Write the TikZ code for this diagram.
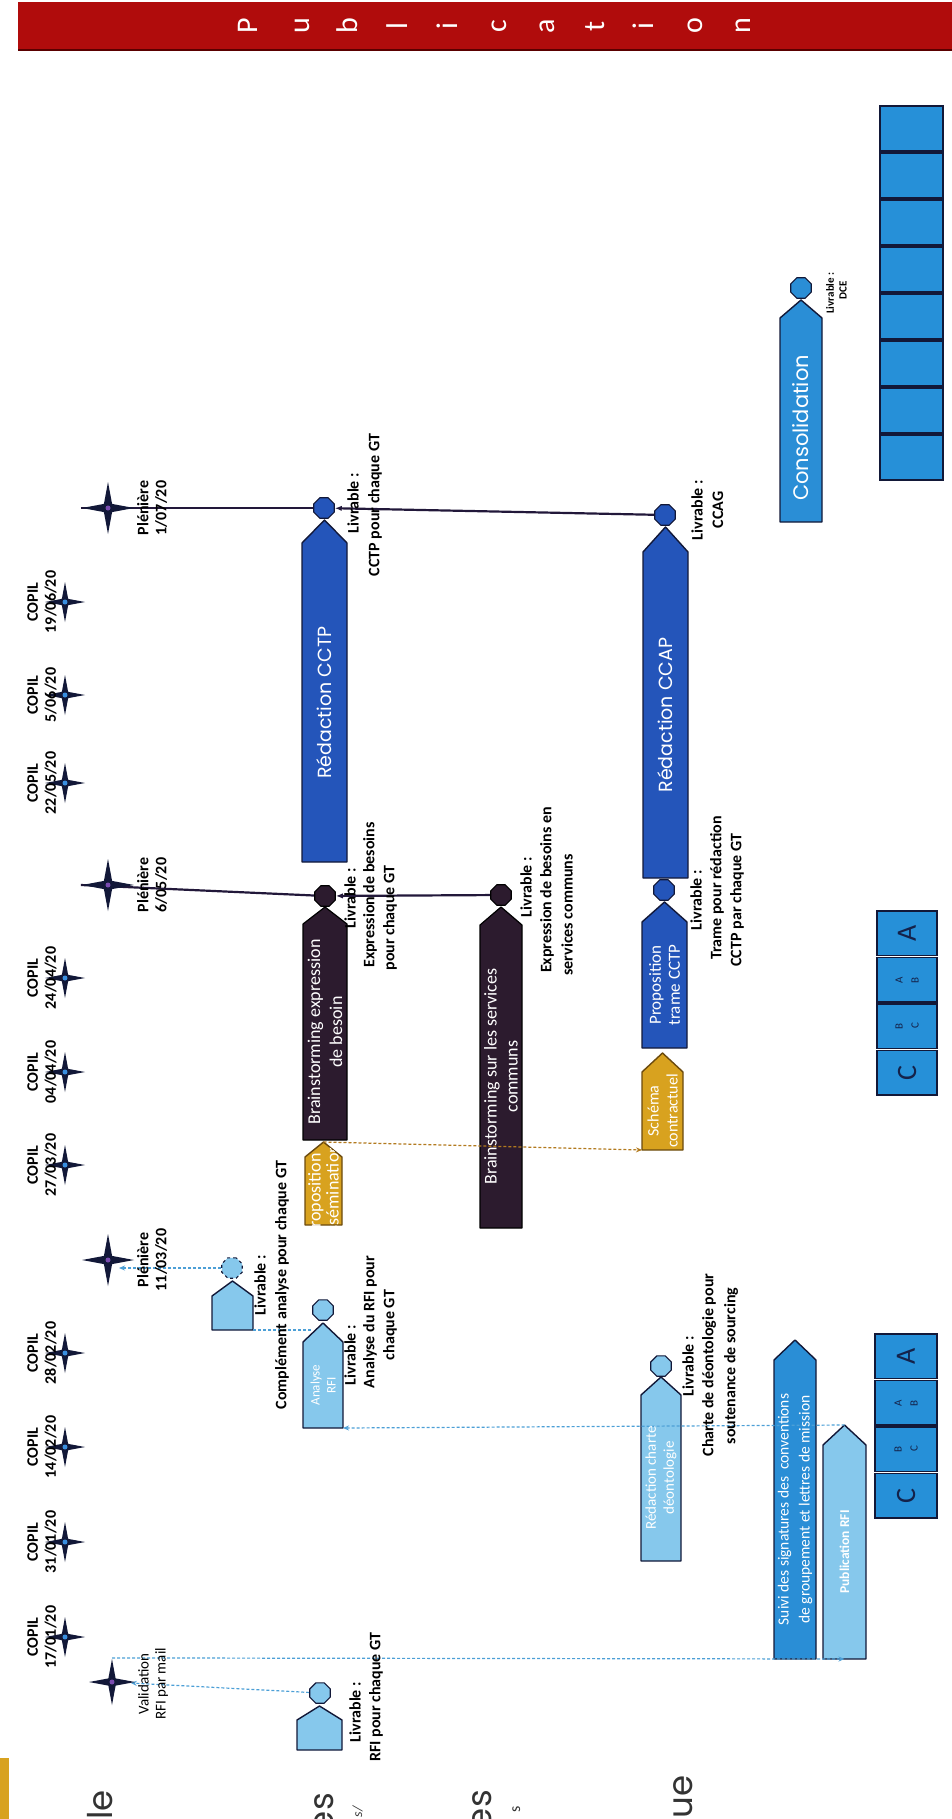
\documentclass[tikz,border=0pt]{standalone}
\usepackage{fontspec}
\setmainfont{Carlito}
\newfontfamily\geofont{Poppins}
\usetikzlibrary{shapes.geometric,arrows.meta}
\definecolor{navy}{HTML}{121838}
\definecolor{lightb}{HTML}{86C8EC}
\definecolor{medb}{HTML}{2A8ED6}
\definecolor{royal}{HTML}{2455BA}
\definecolor{darkp}{HTML}{2C1B2E}
\definecolor{goldc}{HTML}{D8A21F}
\definecolor{goldd}{HTML}{6B4A0E}
\definecolor{bannerred}{HTML}{B00C0C}
\definecolor{bannerdark}{HTML}{5A0000}
\definecolor{dashblue}{HTML}{4C9FD6}
\definecolor{dashgold}{HTML}{B27A1E}
\definecolor{linedark}{HTML}{22183A}
\definecolor{greytxt}{HTML}{333333}
\definecolor{starblue}{HTML}{3A8FE0}
\definecolor{starpurple}{HTML}{7A4CB0}
\definecolor{cellb}{HTML}{2690D8}
\definecolor{letterc}{HTML}{14224A}
\pgfdeclarelayer{boxes}
\pgfdeclarelayer{lines}
\pgfsetlayers{boxes,lines,main}
\newcommand{\gtask}[7]{%
  \draw[#2] (#3,#7) -- (#3,#6) -- ({(#3+#4)/2},#5) -- (#4,#6) -- (#4,#7) -- cycle;
  \coordinate (#1-tip) at ({(#3+#4)/2},#5);
  \coordinate (#1-bot) at ({(#3+#4)/2},#7);
  \coordinate (#1-bl) at (#3,#7);
  \coordinate (#1-br) at (#4,#7);
  \coordinate (#1-mid) at ({(#3+#4)/2},{(#6+#7)/2});
}
\newcommand{\cbastack}[4]{%
  \foreach \i in {0,1,2,3} {\draw[cellbox] (#2,{#4+46.5*\i+1}) rectangle (#3,{#4+46.5*\i+45.5});}
  \node[bigletter] (#1-a) at ({(#2+#3)/2},{#4+23}) {A};
  \node[smallletter] (#1-ab) at ({(#2+#3)/2},{#4+70}) {A\\B};
  \node[smallletter] (#1-bc) at ({(#2+#3)/2},{#4+116}) {B\\C};
  \node[bigletter] (#1-c) at ({(#2+#3)/2},{#4+163}) {C};
}
\begin{document}
\begin{tikzpicture}[x=1pt,y=-1pt,
 lightbox/.style={fill=lightb, draw=navy, line width=1.4pt, line join=round},
 medbox/.style={fill=medb, draw=navy, line width=1.4pt, line join=round},
 royalbox/.style={fill=royal, draw=navy, line width=1.4pt, line join=round},
 darkbox/.style={fill=darkp, draw=black, line width=1.2pt, line join=round},
 goldbox/.style={fill=goldc, draw=goldd, line width=1.4pt, line join=round},
 cellbox/.style={fill=cellb, draw=navy, line width=1.3pt},
 oct/.style={regular polygon, regular polygon sides=8, minimum size=22pt, inner sep=0pt, draw=navy, line width=1.2pt},
 copilstar/.style={star, star points=4, star point ratio=4.5, minimum size=40pt, inner sep=0pt, fill=navy},
 plestar/.style={copilstar, minimum size=52pt},
 stardot/.style={circle, inner sep=0pt, minimum size=5pt, fill=starblue},
 rot/.style={rotate=90, inner sep=0pt},
 lbl/.style={rot, align=center, font=\fontsize{16}{21}\selectfont\bfseries},
 mslbl/.style={rot, align=center, font=\fontsize{16}{18}\selectfont\bfseries},
 btxt/.style={rot, align=center, text=white},
 dashl/.style={draw=dashblue, line width=1.2pt, dash pattern=on 3pt off 2pt},
 dashg/.style={draw=dashgold, line width=1.2pt, dash pattern=on 3pt off 2pt},
 blk/.style={draw=linedark, line width=2.2pt},
 bigletter/.style={rot, text=letterc, font=\fontsize{28}{30}\selectfont},
 smallletter/.style={rot, text=letterc, align=center, font=\fontsize{11}{16}\selectfont},
 frag/.style={rot, text=greytxt, font=\geofont\fontsize{34}{40}\selectfont},
 tip/.style={-{Stealth[length=6pt,width=5pt]}}
]
\useasboundingbox (0,0) rectangle (952,1819);

% banner
\fill[bannerred] (18,2) rectangle (952,50);
\draw[bannerdark, line width=1.5pt] (18,50) -- (952,50);
\foreach \ch/\xx in {P/248,u/302,b/347,l/397,i/447,c/499,a/547,t/595,i/643,o/695,n/743}
  {\node[rot, text=white, font=\fontsize{30}{30}\selectfont] (ban\xx) at (\xx,26) {\ch};}

\begin{pgfonlayer}{boxes}
\foreach \i in {0,...,7} {\draw[cellbox] (880,{105+47*\i+1}) rectangle (943,{105+47*\i+46});}
\gtask{rfi}{lightbox}{297}{342}{1706}{1720}{1750}
\gtask{comp}{lightbox}{212}{253}{1281}{1296}{1330}
\gtask{ana}{lightbox}{303}{343}{1323}{1342}{1428}
\gtask{cha}{lightbox}{641}{681}{1377}{1395}{1561}
\gtask{sui}{medbox}{774}{816}{1340}{1360}{1659}
\gtask{pub}{lightbox}{823}{866}{1425}{1445}{1659}
\gtask{bex}{darkbox}{303}{347}{907}{924}{1140}
\gtask{pdi}{goldbox}{305}{342}{1142}{1157}{1225}
\gtask{bsc}{darkbox}{480}{522}{907}{925}{1228}
\gtask{sch}{goldbox}{642}{683}{1053}{1072}{1150}
\gtask{ptr}{royalbox}{642}{687}{902}{922}{1048}
\gtask{ccap}{royalbox}{643}{688}{527}{552}{878}
\gtask{cctp}{royalbox}{302}{347}{520}{543}{862}
\gtask{cons}{medbox}{780}{822}{300}{318}{522}
\end{pgfonlayer}

\cbastack{cbam}{877}{937}{910}
\cbastack{cbab}{875}{937}{1333}

% box texts
\node[btxt, font=\geofont\fontsize{19}{22}\selectfont] (cctp-t) at (cctp-mid) {Rédaction CCTP};
\node[btxt, font=\geofont\fontsize{19}{22}\selectfont] (ccap-t) at (ccap-mid) {Rédaction CCAP};
\node[btxt, font=\geofont\fontsize{21}{24}\selectfont] (cons-t) at ([yshift=-8pt]cons-mid) {Consolidation};
\node[btxt, font=\fontsize{18}{22}\selectfont] (bex-t) at (bex-mid) {Brainstorming expression\\de besoin};
\node[btxt, font=\fontsize{18}{21}\selectfont] (bsc-t) at (bsc-mid) {Brainstorming sur les services\\communs};
\node[btxt, font=\fontsize{17}{19}\selectfont] (ptr-t) at (ptr-mid) {Proposition\\trame CCTP};
\node[btxt, font=\fontsize{15.5}{21}\selectfont] (sui-t) at (sui-mid) {Suivi des signatures des\ \ conventions\\de groupement et lettres de mission};
\node[btxt, font=\fontsize{13.5}{16}\selectfont\bfseries] (pub-t) at (pub-mid) {Publication RFI};
\node[btxt, font=\fontsize{13}{16}\selectfont] (ana-t) at (ana-mid) {Analyse\\RFI};
\node[btxt, font=\fontsize{15}{18}\selectfont] (cha-t) at (cha-mid) {Rédaction charte\\déontologie};
\begin{scope}
\clip (305,1225) -- (305,1157) -- (323.5,1142) -- (342,1157) -- (342,1225) -- cycle;
\node[btxt, font=\fontsize{18}{18}\selectfont] (pdi-t) at ([yshift=-4pt]pdi-mid) {Proposition\\dissémination};
\end{scope}
\begin{scope}
\clip (642,1150) -- (642,1072) -- (662.5,1053) -- (683,1072) -- (683,1150) -- cycle;
\node[btxt, font=\fontsize{16}{19}\selectfont] (sch-t) at (sch-mid) {Schéma\\contractuel};
\end{scope}

% deliverable markers
\node[oct, fill=lightb] (rfi-c) at (320,1693) {};
\node[oct, fill=lightb, dashed] (comp-c) at (232,1268) {};
\node[oct, fill=lightb] (ana-c) at (323,1310) {};
\node[oct, fill=lightb] (cha-c) at (661,1366) {};
\node[oct, fill=darkp, draw=black] (bex-c) at (325,896) {};
\node[oct, fill=darkp, draw=black] (bsc-c) at (501,895) {};
\node[oct, fill=royal] (ptr-c) at (664,890) {};
\node[oct, fill=royal] (ccap-c) at (665,515) {};
\node[oct, fill=royal] (cctp-c) at (324,508) {};
\node[oct, fill=medb] (cons-c) at (801,288) {};

% milestones
\foreach \n/\yy/\dd in {c1/1637/{17/01/20}, c2/1542/{31/01/20}, c3/1447/{14/02/20}, c4/1353/{28/02/20}, c5/1165/{27/03/20}, c6/1072/{04/04/20}, c7/978/{24/04/20}, c8/783/{22/05/20}, c9/695/{5/06/20}, c10/602/{19/06/20}} {
  \node[copilstar] (\n) at (65,\yy) {};
  \node[stardot] (\n-d) at (\n) {};
  \node[mslbl] (\n-l) at (42,\yy) {COPIL\\\dd};
}
\foreach \n/\yy/\dd in {ple1/1260/{11/03/20}, ple2/885/{6/05/20}, ple3/508/{1/07/20}} {
  \node[plestar] (\n) at (108,\yy) {};
  \node[stardot, fill=starpurple] (\n-d) at (\n) {};
  \node[mslbl] (\n-l) at (152,\yy) {Plénière\\\dd};
}
\coordinate (ple1-in) at ([xshift=11pt]ple1.center);
\node[plestar, minimum size=46pt] (val) at (112,1682) {};
\node[stardot, fill=starpurple] (val-d) at (val) {};
\node[rot, align=center, font=\fontsize{15}{17}\selectfont] (val-l) at (153,1684) {Validation\\RFI par mail};

% deliverable labels
\node[lbl] (lrfi1) at (355,1712) {Livrable :};
\node[lbl] (lrfi2) at (376,1697) {RFI pour chaque GT};
\node[lbl] (lcomp1) at (260,1285) {Livrable :};
\node[lbl] (lcomp2) at (282,1285) {Complément analyse pour chaque GT};
\node[lbl] (lana1) at (350,1355) {Livrable :};
\node[lbl] (lana2) at (370,1322) {Analyse du RFI pour};
\node[lbl] (lana3) at (390,1325) {chaque GT};
\node[lbl] (lcha1) at (688,1366) {Livrable :};
\node[lbl] (lcha2) at (709,1365) {Charte de déontologie pour};
\node[lbl] (lcha3) at (731,1366) {soutenance de sourcing};
\node[lbl] (lbex1) at (350,898) {Livrable :};
\node[lbl] (lbex2) at (370,895) {Expression de besoins};
\node[lbl] (lbex3) at (390,918) {pour chaque GT};
\node[lbl] (lbsc1) at (526,887) {Livrable :};
\node[lbl] (lbsc2) at (547,890) {Expression de besoins en};
\node[lbl] (lbsc3) at (567,915) {services communs};
\node[lbl] (lptr1) at (696,900) {Livrable :};
\node[lbl] (lptr2) at (717,888) {Trame pour rédaction};
\node[lbl] (lptr3) at (737,900) {CCTP par chaque GT};
\node[lbl] (lcctp1) at (353,503) {Livrable :};
\node[lbl] (lcctp2) at (375,505) {CCTP pour chaque GT};
\node[lbl] (lccap1) at (697,510) {Livrable :};
\node[lbl] (lccap2) at (718,510) {CCAG};
\node[rot, align=center, font=\fontsize{11}{13}\selectfont\bfseries] (lcons1) at (830,293) {Livrable :};
\node[rot, align=center, font=\fontsize{11}{13}\selectfont\bfseries] (lcons2) at (843,290) {DCE};

% cut-off texts at the bottom edge
\node[frag, anchor=base east] (f1) at (112,1790) {le};
\node[frag, anchor=base east] (f2) at (333,1793) {es};
\node[rot, text=greytxt, font=\itshape\fontsize{14}{14}\selectfont, anchor=base east] (f3) at (362,1806) {s/};
\node[frag, anchor=base east] (f4) at (491,1790) {es};
\node[rot, text=greytxt, font=\fontsize{16}{16}\selectfont, anchor=base east] (f5) at (520,1806) {s};
\node[frag, anchor=base east] (f6) at (692,1775) {ue};
\fill[goldc] (0,1758) rectangle (9,1819);

% connectors
\begin{pgfonlayer}{lines}
\draw[dashl, tip] (val.north) -- (pub-bot);
\draw[dashl, tip] (rfi-c) -- (val);
\draw[dashl, tip] (pub-tip) -- (ana-br);
\draw[dashl] (comp-br) -- (comp-br -| ana-c.west);
\draw[dashl, tip] (comp-c.west) -- (comp-c.west -| ple1-in);
\draw[dashg, tip] (pdi-tip) -- (sch-bl);
\draw[blk] (ple2.west) -- (bex-c);
\draw[blk, -{Latex[length=7pt]}] (bsc-c) -- (bex-c);
\draw[blk] (ple3.west) -- (cctp-c);
\draw[blk, -{Latex[length=7pt]}] (ccap-c) -- (cctp-c);
\end{pgfonlayer}
\end{tikzpicture}
\end{document}
